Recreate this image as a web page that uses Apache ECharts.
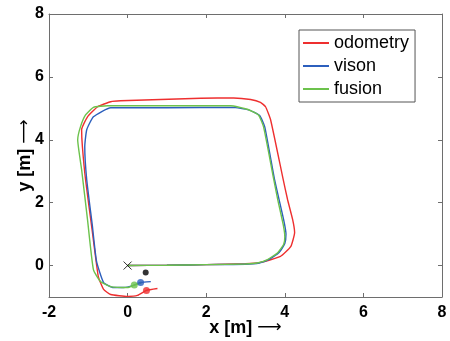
<!DOCTYPE html>
<html>
<head>
<meta charset="utf-8">
<script src="https://cdn.jsdelivr.net/npm/echarts@6/dist/echarts.min.js"></script>
<style>
  html, body { margin: 0; padding: 0; background: #fff; }
  #chart { width: 450px; height: 341px; }
</style>
</head>
<body>
<div id="chart"></div>
<script>
// trajectories, [x, y] in metres
const odometry = [
  [0, 0], [1, 0.01], [2, 0.03], [3, 0.06], [3.38, 0.1], [3.89, 0.29], [4.15, 0.6],
  [4.25, 1.05], [4.2, 1.46], [4.07, 2.1], [3.96, 2.73], [3.64, 4.63], [3.51, 5.05],
  [3.38, 5.19], [3.13, 5.28], [2.7, 5.33], [1.86, 5.32], [-0.18, 5.24], [-0.43, 5.21],
  [-0.76, 5.05], [-1.02, 4.73], [-1.17, 4.32], [-1.15, 3.78], [-1.07, 2.73], [-0.9, 1.1],
  [-0.79, 0.03], [-0.74, -0.38], [-0.61, -0.76], [-0.43, -0.92], [0, -0.98], [0.25, -0.95],
  [0.48, -0.79], [0.76, -0.73]
];
const vison = [
  [0, 0], [1, 0.01], [2, 0.03], [3, 0.04], [3.35, 0.08], [3.6, 0.2], [3.86, 0.42],
  [4.0, 0.7], [4.03, 1.0], [3.97, 1.46], [3.74, 2.73], [3.49, 4.41], [3.36, 4.77],
  [3.08, 4.95], [2.67, 5.03], [1, 5.02], [-0.43, 5.02], [-0.87, 4.73], [-1.04, 4.32],
  [-1.09, 3.78], [-1.04, 2.73], [-0.9, 1.3], [-0.79, 0.13], [-0.61, -0.54], [-0.36, -0.7],
  [-0.1, -0.7], [0.15, -0.63], [0.33, -0.54], [0.59, -0.51]
];
const fusion = [
  [0, 0], [1, 0.01], [2, 0.03], [3, 0.05], [3.3, 0.08], [3.56, 0.19], [3.82, 0.41],
  [3.97, 0.67], [4.0, 0.92], [3.96, 1.3], [3.82, 2.1], [3.72, 2.73], [3.46, 4.41],
  [3.33, 4.79], [3.05, 4.97], [2.62, 5.08], [1, 5.08], [-0.5, 5.08], [-0.87, 5.03],
  [-1.07, 4.79], [-1.2, 4.41], [-1.27, 4.0], [-1.17, 3.05], [-1.02, 1.46], [-0.87, -0.13],
  [-0.69, -0.51], [-0.43, -0.67], [0, -0.7], [0.15, -0.63], [0.35, -0.56]
];
// end markers
const odometryEnd = [[0.48, -0.79]];
const visonEnd = [[0.33, -0.54]];
const fusionEnd = [[0.17, -0.62]];
const startPoint = [[0, 0]];
const truthEnd = [[0.46, -0.22]];

const xTicks = [-2, 0, 2, 4, 6, 8];
const yTicks = [0, 2, 4, 6, 8];

const RED = '#ee2f2f';
const BLUE = '#2c5fbd';
const GREEN = '#6cc24c';
const AXIS = '#6e6e6e';
const FONT = 'Liberation Sans';

let chart = echarts.init(document.getElementById('chart'), null, { renderer: 'canvas' });

function traj(name, data, color) {
  return {
    name: name,
    type: 'line',
    data: data,
    symbol: 'none',
    smooth: 0.15,
    lineStyle: { color: color, width: 1.4 },
    itemStyle: { color: color },
    z: 3,
  };
}

function dot(data, color, size) {
  return {
    type: 'scatter',
    data: data,
    symbol: 'circle',
    symbolSize: size,
    itemStyle: { color: color },
    silent: true,
    z: 4,
  };
}

let baseAxis = {
  type: 'value',
  axisLine: { show: true, onZero: false, lineStyle: { color: AXIS, width: 1 } },
  axisTick: { show: true, inside: true, length: 4, lineStyle: { color: AXIS } },
  splitLine: { show: false },
};

let nameStyle = {
  fontFamily: FONT, fontSize: 18, fontWeight: 'bold', color: '#000',
  rich: {
    arr: { fontFamily: 'DejaVu Sans', fontSize: 17, fontWeight: 'normal', color: '#000' },
  },
};

let option = {
  animation: false,
  backgroundColor: '#fff',
  grid: { left: 49, right: 8, top: 14, bottom: 44, outerBoundsMode: 'none' },
  legend: {
    data: ['odometry', 'vison', 'fusion'],
    orient: 'vertical',
    left: 299,
    top: 30,
    itemWidth: 26,
    itemHeight: 10,
    itemGap: 1,
    padding: [2, 6, 2, 3],
    borderColor: '#555',
    borderWidth: 1,
    backgroundColor: '#fff',
    itemStyle: { opacity: 0 },
    textStyle: { fontFamily: FONT, fontSize: 18, color: '#000', lineHeight: 22 },
  },
  xAxis: [
    Object.assign({}, baseAxis, {
      min: -2, max: 8, interval: 2,
      name: 'x [m] {arr|\u27F6}',
      nameLocation: 'middle',
      nameGap: 22,
      nameMoveOverlap: false,
      nameTextStyle: nameStyle,
      axisLabel: {
        fontFamily: FONT, fontSize: 16, fontWeight: 'bold', color: '#000', margin: 8,
        customValues: xTicks,
      },
      axisTick: Object.assign({}, baseAxis.axisTick, { customValues: xTicks }),
    }),
    Object.assign({}, baseAxis, {
      position: 'top', min: -2, max: 8, interval: 2,
      axisLabel: { show: false },
    }),
  ],
  yAxis: [
    Object.assign({}, baseAxis, {
      min: -1, max: 8,
      name: 'y [m] {arr|\u27F6}',
      nameLocation: 'middle',
      nameGap: 15,
      nameMoveOverlap: false,
      nameRotate: 90,
      nameTextStyle: nameStyle,
      axisLabel: {
        fontFamily: FONT, fontSize: 16, fontWeight: 'bold', color: '#000', margin: 5,
        customValues: yTicks,
      },
      axisTick: Object.assign({}, baseAxis.axisTick, { customValues: yTicks }),
    }),
    Object.assign({}, baseAxis, {
      position: 'right', min: -1, max: 8,
      axisLabel: { show: false },
      axisTick: Object.assign({}, baseAxis.axisTick, { customValues: yTicks }),
    }),
  ],
  series: [
    traj('odometry', odometry, RED),
    traj('vison', vison, BLUE),
    traj('fusion', fusion, GREEN),
    dot(odometryEnd, RED, 7),
    dot(visonEnd, BLUE, 7),
    dot(fusionEnd, GREEN, 7),
    dot(truthEnd, '#000', 6),
    {
      type: 'scatter',
      data: startPoint,
      symbol: 'path://M0,0L10,10M10,0L0,10',
      symbolSize: 8,
      itemStyle: { color: 'none', borderColor: '#000', borderWidth: 1 },
      silent: true,
      z: 5,
    },
  ],
};

chart.setOption(option);
</script>
</body>
</html>
